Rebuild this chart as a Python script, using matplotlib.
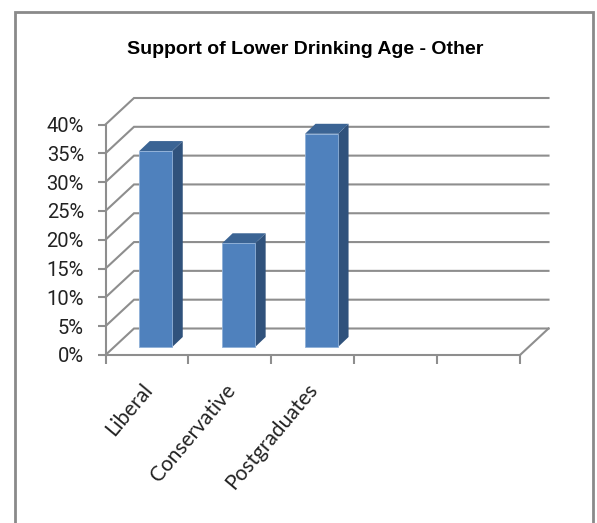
import matplotlib
matplotlib.use("Agg")
import matplotlib.pyplot as plt
from matplotlib.patches import Polygon, Rectangle
from matplotlib.transforms import Affine2D

categories = ["Liberal", "Conservative", "Postgraduates"]
values = [34, 18, 37]
n_slots = 5
y_ticks = [0, 5, 10, 15, 20, 25, 30, 35, 40]

W, H = 597, 523
fig = plt.figure(figsize=(W / 100, H / 100), dpi=100, facecolor="white")
L, R, T, B = 105.5, 520.0, 124.5, 355.0
ax = fig.add_axes([L / W, (H - B) / H, (R - L) / W, (B - T) / H])
ax.set_xlim(0, n_slots)
ax.set_ylim(0, 40)
ax.patch.set_visible(False)

GRID = "#8e8e8e"
ux = (R - L) / n_slots      # px per category
uy = (B - T) / 40           # px per percent
wall_dx, wall_dy = 28.5 / ux, 26.5 / uy

# outer frame
fig.add_artist(Rectangle((15 / W, -0.02), (593 - 15) / W, (H - 12) / H + 0.02,
                         transform=fig.transFigure, fill=False,
                         edgecolor="#8a8a8a", linewidth=2.0))

# back wall and side wall grid
for v in y_ticks:
    ax.plot([0, wall_dx, n_slots + wall_dx], [v, v + wall_dy, v + wall_dy],
            color=GRID, lw=1.5, clip_on=False, zorder=1, solid_joinstyle="miter")
ax.plot([n_slots, n_slots + wall_dx], [0, wall_dy], color=GRID, lw=1.5, clip_on=False, zorder=1)

# 3D columns
bar_w = 33 / ux
shift_x, shift_y = 8.8 / ux, 8 / uy
dx, dy = 10.5 / ux, 10 / uy
for i, v in enumerate(values):
    x0 = i + 0.5 + shift_x - bar_w / 2
    x1 = x0 + bar_w
    y0, y1 = shift_y, v + shift_y
    ax.bar(x0, v, width=bar_w, bottom=shift_y, align="edge", color="#4f81bd",
           edgecolor="#8fb0d8", linewidth=0.6, clip_on=False, zorder=4)
    ax.add_patch(Polygon([(x1, y0), (x1 + dx, y0 + dy), (x1 + dx, y1 + dy), (x1, y1)],
                         closed=True, facecolor="#30527c", edgecolor="none",
                         clip_on=False, zorder=3))
    ax.add_patch(Polygon([(x0, y1), (x0 + dx, y1 + dy), (x1 + dx, y1 + dy), (x1, y1)],
                         closed=True, facecolor="#3b6494", edgecolor="none",
                         clip_on=False, zorder=3))

# axes
for s in ("top", "right"):
    ax.spines[s].set_visible(False)
for s in ("left", "bottom"):
    ax.spines[s].set_color(GRID)
    ax.spines[s].set_linewidth(1.5)

ax.set_yticks(y_ticks)
ax.set_yticklabels([f"{v}%" for v in y_ticks], fontfamily="Roboto", fontsize=14.5, color="#222222")
ax.tick_params(axis="y", length=5.5, width=1.5, color=GRID, pad=10)
ax.set_xticks(range(n_slots + 1))
ax.set_xticklabels([])
ax.tick_params(axis="x", which="major", length=6.5, width=1.5, color=GRID)
ax.set_xticks([i + 0.5 for i in range(len(categories))], minor=True)
ax.set_xticklabels(categories, minor=True, rotation=50, ha="right", va="top",
                   rotation_mode="anchor", fontfamily="Lato", fontsize=15, color="#222222")
ax.tick_params(axis="x", which="minor", length=0, pad=18)
for lab in ax.get_xticklabels(minor=True):
    lab.set_transform(lab.get_transform() + Affine2D().translate(-6, 0))

fig.text(305 / W, 1 - 50 / H, "Support of Lower Drinking Age - Other", ha="center", va="center",
         fontfamily="Liberation Sans", fontweight="bold", fontsize=14, color="black")

fig.savefig("out.png", dpi=100)
